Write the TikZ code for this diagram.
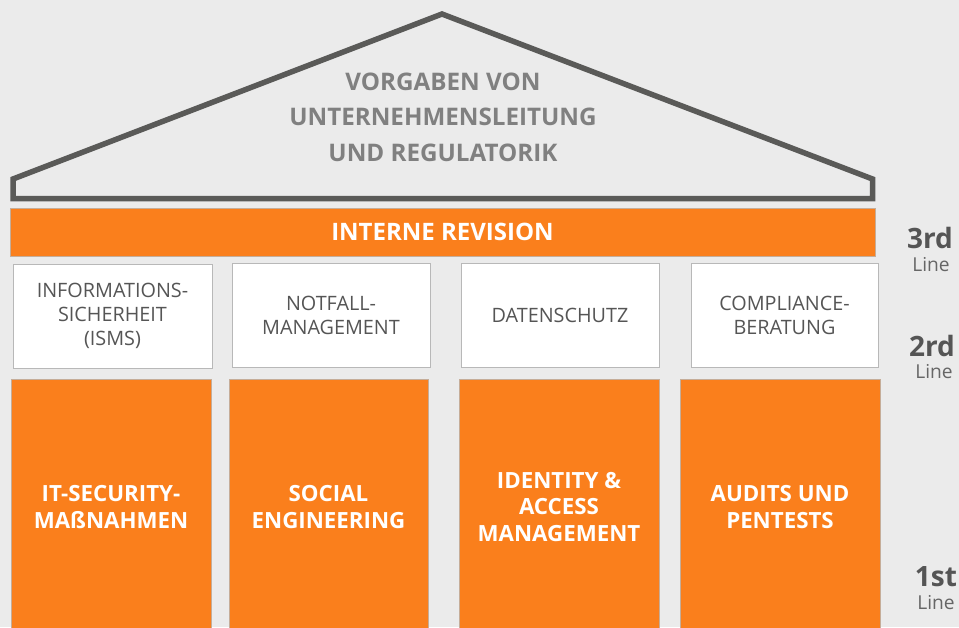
\documentclass[tikz,border=0pt]{standalone}
\usepackage{fontspec}
\setmainfont{Open Sans}
\definecolor{bg}{HTML}{EBEBEB}
\definecolor{org}{HTML}{FA7F1C}
\definecolor{roofc}{HTML}{5A5A58}
\definecolor{rtext}{HTML}{808080}
\definecolor{btext}{HTML}{555555}
\definecolor{bord}{HTML}{B8B8B8}
\begin{document}
\begin{tikzpicture}[x=1pt,y=-1pt,
  whitebox/.style={draw=bord, line width=0.8pt, fill=white, minimum height=104pt, align=center, text=btext,
    font=\fontsize{19.8}{24}\selectfont, inner sep=0pt},
  orangebox/.style={draw=bord!80!org, line width=0.8pt, fill=org, minimum width=200pt, minimum height=256pt, align=center, text=white,
    font=\bfseries\fontsize{22.3}{26.5}\selectfont, inner sep=0pt},
  linebig/.style={text=btext, font=\bfseries\fontsize{28}{30}\selectfont, inner sep=0pt},
  linesmall/.style={text=btext!90, font=\fontsize{19.2}{20}\selectfont, inner sep=0pt}]
\fill[bg] (0,0) rectangle (959,627);
\useasboundingbox (0,0) rectangle (959,627);
\clip (0,0) rectangle (959,627);

% roof
\draw[roofc, line width=5.5pt, line join=miter] (13,179) -- (13,198.5) -- (872.5,198.5) -- (872.5,179) -- (442,14) -- cycle;
\node[text=rtext, align=center, font=\bfseries\fontsize{24.2}{35.5}\selectfont] (roof) at (443,117)
  {VORGABEN VON\\UNTERNEHMENSLEITUNG\\UND REGULATORIK};

% 3rd line bar
\node[fill=org, draw=bord!80!org, line width=0.8pt, minimum width=865pt, minimum height=48pt, text=white,
  font=\bfseries\fontsize{24}{26}\selectfont, inner sep=0pt] (rev) at (442.5,232) {INTERNE REVISION};

% 2nd line boxes
\node[whitebox, minimum width=199pt] (b1) at (112.5,316) {INFORMATIONS-\\SICHERHEIT\\(ISMS)};
\node[whitebox, minimum width=198pt] (b2) at (331,315) {NOTFALL-\\MANAGEMENT};
\node[whitebox, minimum width=198pt] (b3) at (560,315) {DATENSCHUTZ};
\node[whitebox, minimum width=187pt] (b4) at (784.5,315) {COMPLIANCE-\\BERATUNG};

% 1st line boxes
\node[orangebox] (o1) at (111,507) {IT-SECURITY-\\MAßNAHMEN};
\node[orangebox, minimum width=199pt] (o2) at (328.5,507) {SOCIAL\\ENGINEERING};
\node[orangebox] (o3) at (559,507) {IDENTITY \&\\ACCESS\\MANAGEMENT};
\node[orangebox] (o4) at (780,507) {AUDITS UND\\PENTESTS};

% line labels
\node[linebig] (l3) at (930,238) {3rd};
\node[linesmall] (l3s) at (931,265) {Line};
\node[linebig] (l2) at (932,346) {2rd};
\node[linesmall] (l2s) at (934,372) {Line};
\node[linebig] (l1) at (936,577) {1st};
\node[linesmall] (l1s) at (936,603) {Line};
\end{tikzpicture}
\end{document}
